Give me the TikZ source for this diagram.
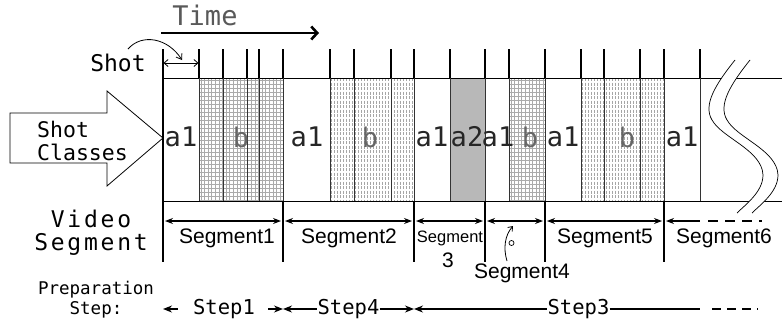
\documentclass[tikz,border=0pt]{standalone}
\usepackage{fontspec}
\newfontfamily\monofam{DejaVu Sans Mono}
\newfontfamily\monowide{DejaVu Sans Mono}[LetterSpace=12]
\newfontfamily\arialfam{Liberation Sans}
\usetikzlibrary{arrows.meta}
\newcommand{\mygridfill}[2]{%
  \begin{scope}
    \clip (#1,78) rectangle (#2,201);
    \foreach \i in {0,...,30}{\draw[gridln] (#1+1.8+\i*3.6,78) -- (#1+1.8+\i*3.6,201);}
    \foreach \j in {0,...,31}{\draw[gridln] (#1,80+\j*4) -- (#2,80+\j*4);}
  \end{scope}}
\newcommand{\mydotfill}[2]{%
  \begin{scope}
    \clip (#1,78) rectangle (#2,201);
    \foreach \i in {0,...,40}{\draw[dotln] (#1+1.5+\i*3,78) -- (#1+1.5+\i*3,201);}
  \end{scope}}
\begin{document}
\begin{tikzpicture}[x=1pt,y=-1pt,
  tick/.style={line width=1.8pt},
  thinv/.style={line width=0.9pt, black!80},
  segv/.style={line width=2.6pt},
  gridln/.style={line width=0.45pt, black!33},
  dotln/.style={line width=0.6pt, black!35, dash pattern=on 3pt off 1.5pt},
  segarr/.style={line width=1.1pt, {Stealth[length=8pt,width=6pt]}-{Stealth[length=8pt,width=6pt]}},
  steparr/.style={line width=1.4pt},
  monof/.style={font=\monofam\fontsize{#1}{#1}\selectfont, inner sep=0pt},
  arialf/.style={font=\arialfam\fontsize{#1}{#1}\selectfont, inner sep=0pt},
  clab/.style={monof=27, text=black!85},
  blab/.style={monof=27, text=black!60}
]
\useasboundingbox (0,0) rectangle (782,322);

% ---- fills of shots
\mygridfill{199}{283}
\mygridfill{509}{545}
\mydotfill{330}{414}
\mydotfill{581}{664}
\fill[black!28] (450,78) rectangle (485,201);

% ---- band outline
\draw[line width=1pt] (163,78) -- (782,78);
\draw[line width=1pt] (163,201) -- (782,201);

% ---- shot boundaries
\foreach \x in {163,199,223,247,259,283,330,354,391,414,450,485,509,545,581,604,640,664,700}{
  \draw[tick] (\x,49) -- (\x,78);
  \draw[thinv] (\x,78) -- (\x,201);
}
% ---- segment boundaries
\foreach \x in {163,283,414,485,545,664}{
  \draw[segv] (\x,201) -- (\x,262);
}
\draw[line width=1.8pt] (163,49) -- (163,262);

% ---- wavy break
\fill[white] (735,60) .. controls (715,85) and (703,105) .. (712,120)
  .. controls (722,138) and (762,150) .. (763,175)
  .. controls (763,192) and (745,205) .. (737,213)
  -- (752,213) .. controls (760,205) and (778,192) .. (778,175)
  .. controls (777,150) and (737,138) .. (727,120)
  .. controls (718,105) and (730,85) .. (750,60) -- cycle;
\draw[line width=0.7pt] (735,60) .. controls (715,85) and (703,105) .. (712,120)
  .. controls (722,138) and (762,150) .. (763,175)
  .. controls (763,192) and (745,205) .. (737,213);
\draw[line width=0.7pt] (750,60) .. controls (730,85) and (718,105) .. (727,120)
  .. controls (737,138) and (777,150) .. (778,175)
  .. controls (778,192) and (760,205) .. (752,213);

% ---- time
\node[monof=27, text=black!65] (time) at (205,15) {Time};
\coordinate (timeA) at (161,33);
\coordinate (timeB) at (319,33);
\draw[line width=2.6pt, -{Straight Barb[length=6pt,width=13pt]}] (timeA) -- (timeB);

% ---- shot
\node[monof=23] (shot) at (118,63) {Shot};
\coordinate (shA) at (163.5,63);
\coordinate (shB) at (198.5,63);
\draw[line width=0.8pt, {Straight Barb[length=4pt,width=7pt]}-{Straight Barb[length=4pt,width=7pt]}] (shA) -- (shB);
\coordinate (cS) at (128,49);
\coordinate (cE) at (182,60);
\draw[line width=0.8pt, -{Straight Barb[length=5pt,width=7pt]}] (cS) .. controls (142,33) and (168,38) .. (cE);

% ---- shot classes arrow
\draw[line width=0.8pt] (10,113) -- (107,113) -- (107,91) -- (163,138) -- (107,186) -- (107,163) -- (10,163) -- cycle;
\node[font=\monofam\fontsize{21.5}{23.5}\selectfont, inner sep=0pt, align=left, anchor=west] (sc) at (37,141) {Shot\\Classes};

% ---- class labels
\node[clab] (c1) at (181,137) {a1};
\node[blab] (c2) at (241,137) {b};
\node[clab] (c3) at (307,137) {a1};
\node[blab] (c4) at (370,137) {b};
\node[clab] (c5) at (432,137) {a1};
\node[clab] (c6) at (467,137) {a2};
\node[clab] (c7) at (498,137) {a1};
\node[blab] (c8) at (530,137) {b};
\node[clab] (c9) at (563,137) {a1};
\node[blab] (c10) at (627,137) {b};
\node[clab] (c11) at (682,137) {a1};

% ---- video segment
\node[font=\monowide\fontsize{23}{23}\selectfont, inner sep=0pt, align=center] (vs) at (91,233) {Video\\Segment};
\coordinate (s0) at (163,221);
\coordinate (s1) at (283,221);
\coordinate (s2) at (414,221);
\coordinate (s3) at (485,221);
\coordinate (s4) at (545,221);
\coordinate (s5) at (664,221);
\coordinate (s6) at (700,221);
\coordinate (s7) at (762,221);
\draw[segarr] ([xshift=2pt]s0) -- ([xshift=-2pt]s1);
\draw[segarr] ([xshift=2pt]s1) -- ([xshift=-2pt]s2);
\draw[segarr] ([xshift=2pt]s2) -- ([xshift=-2pt]s3);
\draw[segarr] ([xshift=2pt]s3) -- ([xshift=-2pt]s4);
\draw[segarr] ([xshift=2pt]s4) -- ([xshift=-2pt]s5);
\draw[line width=1.1pt, {Stealth[length=8pt,width=6pt]}-] ([xshift=2pt]s5) -- (s6);
\draw[line width=1.1pt, dash pattern=on 10pt off 7pt] ([xshift=8pt]s6) -- (s7);

\node[arialf=21] (g1) at (227,238) {Segment1};
\node[arialf=21] (g2) at (349,238) {Segment2};
\node[arialf=16.5] (g3) at (450,238) {Segment};
\node[arialf=21] (g3b) at (448,260) {3};
\node[arialf=21] (g4) at (522,273) {Segment4};
\node[arialf=21] (g5) at (605,238) {Segment5};
\node[arialf=21] (g6) at (724,238) {Segment6};
\coordinate (g4a) at (507,261);
\coordinate (g4b) at (513,226);
\draw[line width=0.8pt, -{Straight Barb[length=4pt,width=6pt]}] (g4a) .. controls (503,248) and (505,235) .. (g4b);
\draw[line width=0.7pt] (511.5,243) circle (2.5);

% ---- preparation step
\node[font=\monofam\fontsize{17.5}{20}\selectfont, inner sep=0pt, align=center] (ps) at (96,300) {Preparation\\Step:};
\node[monof=20.5] (st1) at (224,309) {Step1};
\node[monof=20.5] (st4) at (348.5,309) {Step4};
\node[monof=20.5] (st3) at (578.5,309) {Step3};
\coordinate (p0) at (163,309);
\coordinate (p1) at (283,309);
\coordinate (p2) at (414,309);
\coordinate (p3) at (700,309);
\coordinate (p4) at (712,309);
\coordinate (p5) at (758,309);
\draw[steparr, {Stealth[length=9pt,width=7pt]}-] (p0) -- ([xshift=15pt]p0);
\draw[steparr, -{Stealth[length=9pt,width=7pt]}] ([xshift=-15pt]p1) -- (p1);
\draw[steparr, {Stealth[length=9pt,width=7pt]}-] (p1) -- (st4.west);
\draw[steparr, -{Stealth[length=9pt,width=7pt]}] (st4.east) -- (p2);
\draw[steparr, {Stealth[length=9pt,width=7pt]}-] (p2) -- (st3.west);
\draw[steparr] (st3.east) -- (p3);
\draw[steparr, dash pattern=on 9pt off 6pt] (p4) -- (p5);
\end{tikzpicture}
\end{document}
